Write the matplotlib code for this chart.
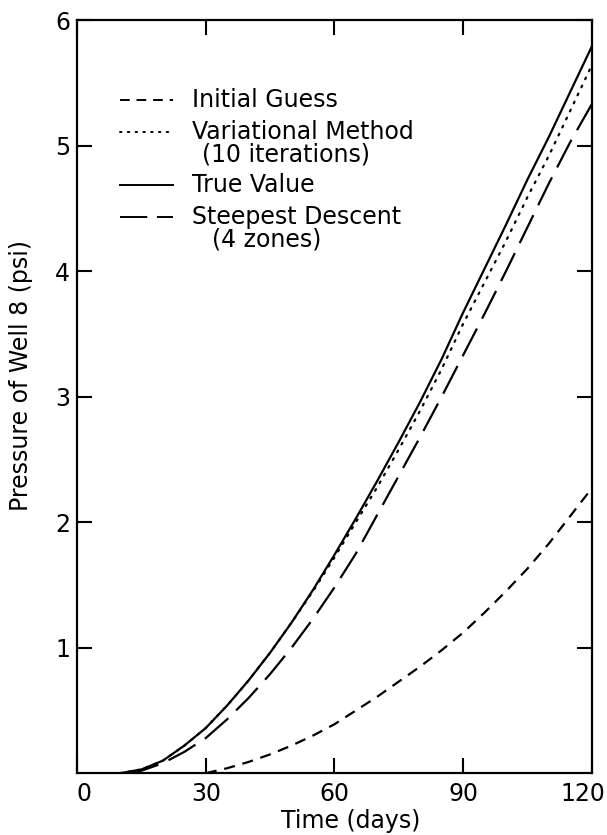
import numpy as np
import matplotlib
matplotlib.use('Agg')
import matplotlib.pyplot as plt
from matplotlib.transforms import ScaledTranslation

plt.rcParams['font.family'] = ['DejaVu Sans']

# values
days_guess = [30, 35, 40, 45, 50, 55, 60, 65, 70, 75, 80, 85, 90, 95, 100, 105, 110, 115, 120]
p_guess = [0.0, 0.04, 0.09, 0.15, 0.22, 0.30, 0.39, 0.50, 0.61, 0.73, 0.85, 0.98, 1.12, 1.28, 1.45,
           1.63, 1.83, 2.05, 2.27]

days = [10, 15, 20, 25, 30, 35, 40, 45, 50, 55, 60, 65, 70, 75, 80, 85, 90, 95, 100, 105, 110, 115, 120]
p_true = [0.0, 0.03, 0.10, 0.22, 0.36, 0.54, 0.74, 0.96, 1.20, 1.46, 1.74, 2.03, 2.33, 2.64, 2.96,
          3.30, 3.67, 4.02, 4.37, 4.73, 5.07, 5.43, 5.79]
p_var = [0.0, 0.03, 0.10, 0.22, 0.36, 0.54, 0.74, 0.96, 1.20, 1.45, 1.72, 2.00, 2.28, 2.58, 2.89,
         3.22, 3.58, 3.91, 4.24, 4.59, 4.92, 5.28, 5.64]

days_sd = [12, 15, 20, 25, 30, 35, 40, 45, 50, 55, 60, 65, 70, 75, 80, 85, 90, 95, 100, 105, 110, 115, 120]
p_sd = [0.0, 0.02, 0.08, 0.17, 0.28, 0.43, 0.60, 0.79, 1.00, 1.23, 1.48, 1.75, 2.06, 2.37, 2.68,
        3.00, 3.33, 3.66, 4.00, 4.35, 4.70, 5.03, 5.33]

xticks = [0, 30, 60, 90, 120]
yticks = [1, 2, 3, 4, 5, 6]

fig = plt.figure(figsize=(6.07, 8.35), dpi=100)
ax = fig.add_axes([0.127, 0.074, 0.848, 0.902])

lw = 1.6
ax.plot(days_guess, p_guess, color='black', lw=lw, dashes=(5, 3.5))
ax.plot(days, p_var, color='black', lw=lw, dashes=(0.8, 3.2), dash_capstyle='round')
ax.plot(days, p_true, color='black', lw=lw)
ax.plot(days_sd, p_sd, color='black', lw=lw, dashes=(14, 5))

ax.set_xlim(0, 120)
ax.set_ylim(0, 6)
ax.set_xticks(xticks)
ax.set_yticks(yticks)
ax.tick_params(direction='in', length=11, width=1.5, top=True, right=True,
               labelsize=17)
ax.tick_params(axis='x', pad=6)
ax.tick_params(axis='y', pad=5)
for s in ax.spines.values():
    s.set_linewidth(1.6)

# end labels sit a little inside, as in the original
fig.canvas.draw()
xl = ax.get_xticklabels()
xl[0].set_transform(xl[0].get_transform() + ScaledTranslation(0.065, 0, fig.dpi_scale_trans))
xl[-1].set_transform(xl[-1].get_transform() + ScaledTranslation(-0.09, 0, fig.dpi_scale_trans))

ax.set_xlabel('Time (days)', fontsize=17, labelpad=2)
ax.xaxis.set_label_coords(0.532, -0.048)
ax.set_ylabel('Pressure of Well 8 (psi)', fontsize=17)
ax.yaxis.set_label_coords(-0.085, 0.528)

# hand-drawn style legend
entries = [
    ('Initial Guess', None, dict(dashes=(5, 3.5))),
    ('Variational Method', '(10 iterations)', dict(dashes=(0.8, 3.2), dash_capstyle='round')),
    ('True Value', None, dict()),
    ('Steepest Descent', '(4 zones)', dict(dashes=(14, 5))),
]
ys = [0.894, 0.851, 0.781, 0.738]
sub_x = {'(10 iterations)': 0.242, '(4 zones)': 0.262}
for (lab, sub, sty), y in zip(entries, ys):
    ax.plot([0.083, 0.186], [y, y], transform=ax.transAxes, color='black', lw=1.4, **sty)
    ax.text(0.223, y, lab, transform=ax.transAxes, fontsize=17, va='center', ha='left')
    if sub:
        ax.text(sub_x[sub], y - 0.029, sub, transform=ax.transAxes, fontsize=17,
                va='center', ha='left')

fig.savefig('out.png', dpi=100)
